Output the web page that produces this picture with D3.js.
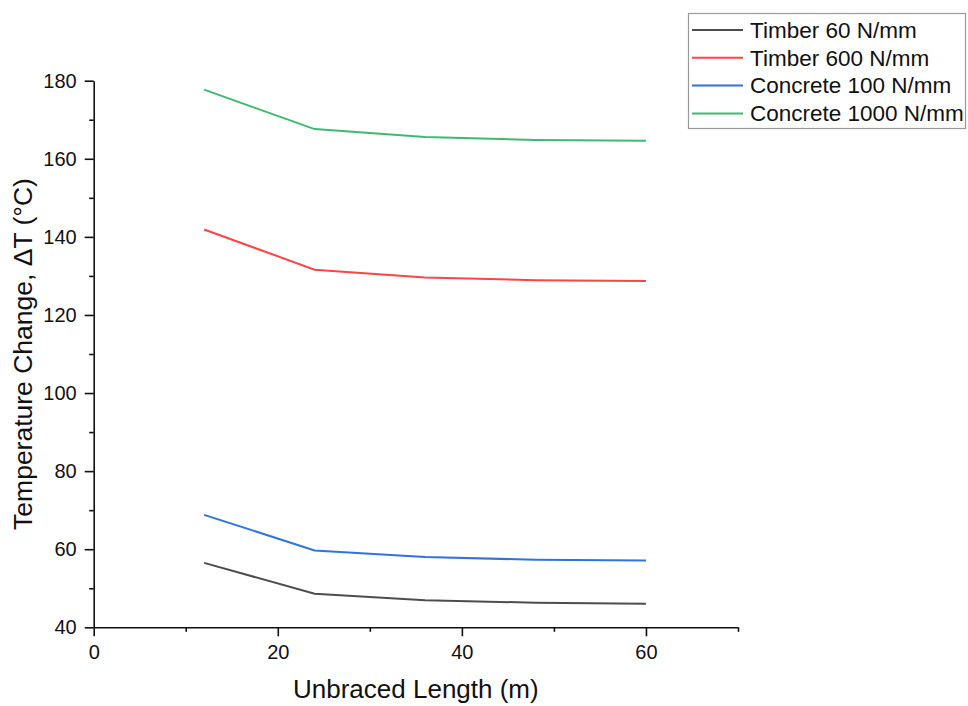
<!DOCTYPE html>
<html>
<head>
<meta charset="utf-8">
<script src="https://cdnjs.cloudflare.com/ajax/libs/d3/7.8.5/d3.min.js"></script>
<style>
    body { margin: 0; background: #fff; }
    svg text { font-family: "Liberation Sans", Arial, sans-serif; fill: #111; }
    .axis path, .axis line { stroke: #111; stroke-width: 1.6; }
</style>
</head>
<body>
<div id="chart"></div>
<script>
var lengths = [12, 24, 36, 48, 60];
var timber60 = [56.5, 48.6, 46.9, 46.3, 46.0];
var timber600 = [141.9, 131.6, 129.6, 128.9, 128.7];
var concrete100 = [68.8, 59.7, 58.0, 57.3, 57.1];
var concrete1000 = [177.7, 167.6, 165.6, 164.8, 164.6];
var seriesNames = ["Timber 60 N/mm", "Timber 600 N/mm", "Concrete 100 N/mm", "Concrete 1000 N/mm"];
var seriesColors = ["#4d4d4d", "#ff4444", "#2f73e0", "#3dba6f"];
var xTicks = [0, 20, 40, 60];
var yTicks = [40, 60, 80, 100, 120, 140, 160, 180];

var width = 968, height = 706;
var margin = { top: 80.7, right: 230, bottom: 78.7, left: 93.7 };

var svg = d3.select("#chart").append("svg")
    .attr("width", width)
    .attr("height", height);

var x = d3.scaleLinear().domain([0, 70]).range([margin.left, 738]);
var y = d3.scaleLinear().domain([40, 180]).range([627.3, margin.top]);

var allSeries = [timber60, timber600, concrete100, concrete1000];

// minor ticks first, then major
svg.append("g")
    .attr("class", "axis")
    .attr("transform", "translate(0," + y(40) + ")")
    .call(d3.axisBottom(x).tickValues([10, 30, 50, 70]).tickSize(4.5).tickFormat(""))
    .call(function (g) { g.select(".domain").remove(); });
svg.append("g")
    .attr("class", "axis")
    .attr("transform", "translate(" + x(0) + ",0)")
    .call(d3.axisLeft(y).tickValues([50, 70, 90, 110, 130, 150, 170]).tickSize(4.5).tickFormat(""))
    .call(function (g) { g.select(".domain").remove(); });

var xAxis = svg.append("g")
    .attr("class", "axis")
    .attr("transform", "translate(0," + y(40) + ")")
    .call(d3.axisBottom(x).tickValues(xTicks).tickSize(9).tickSizeOuter(0).tickPadding(9));
xAxis.selectAll("text").style("font-size", "20px");

var yAxis = svg.append("g")
    .attr("class", "axis")
    .attr("transform", "translate(" + x(0) + ",0)")
    .call(d3.axisLeft(y).tickValues(yTicks).tickSize(9).tickSizeOuter(0).tickPadding(8));
yAxis.selectAll("text").style("font-size", "20px");

// lines
var line = d3.line()
    .x(function (d, i) { return x(lengths[i]); })
    .y(function (d) { return y(d); });

svg.selectAll(".series")
    .data(allSeries)
    .enter().append("path")
    .attr("class", "series")
    .attr("d", line)
    .attr("fill", "none")
    .attr("stroke", function (d, i) { return seriesColors[i]; })
    .attr("stroke-width", 2);

// axis titles
svg.append("text")
    .attr("x", (x(0) + x(70)) / 2)
    .attr("y", 698)
    .attr("text-anchor", "middle")
    .style("font-size", "26px")
    .text("Unbraced Length (m)");

svg.append("text")
    .attr("transform", "translate(32," + (y(40) + y(180)) / 2 + ") rotate(-90)")
    .attr("text-anchor", "middle")
    .style("font-size", "26.5px")
    .text("Temperature Change, ΔT (°C)");

// legend
var legend = svg.append("g");
legend.append("rect")
    .attr("x", 688.5)
    .attr("y", 13.5)
    .attr("width", 277)
    .attr("height", 115)
    .attr("fill", "#fff")
    .attr("stroke", "#999")
    .attr("stroke-width", 1.2);

var rows = legend.selectAll(".row")
    .data(seriesNames)
    .enter().append("g")
    .attr("class", "row")
    .attr("transform", function (d, i) { return "translate(0," + (30 + i * 27.8) + ")"; });
rows.append("line")
    .attr("x1", 692).attr("x2", 743)
    .attr("stroke", function (d, i) { return seriesColors[i]; })
    .attr("stroke-width", 2);
rows.append("text")
    .attr("x", 750)
    .attr("dy", "0.35em")
    .style("font-size", "22.5px")
    .text(function (d) { return d; });
</script>
</body>
</html>
